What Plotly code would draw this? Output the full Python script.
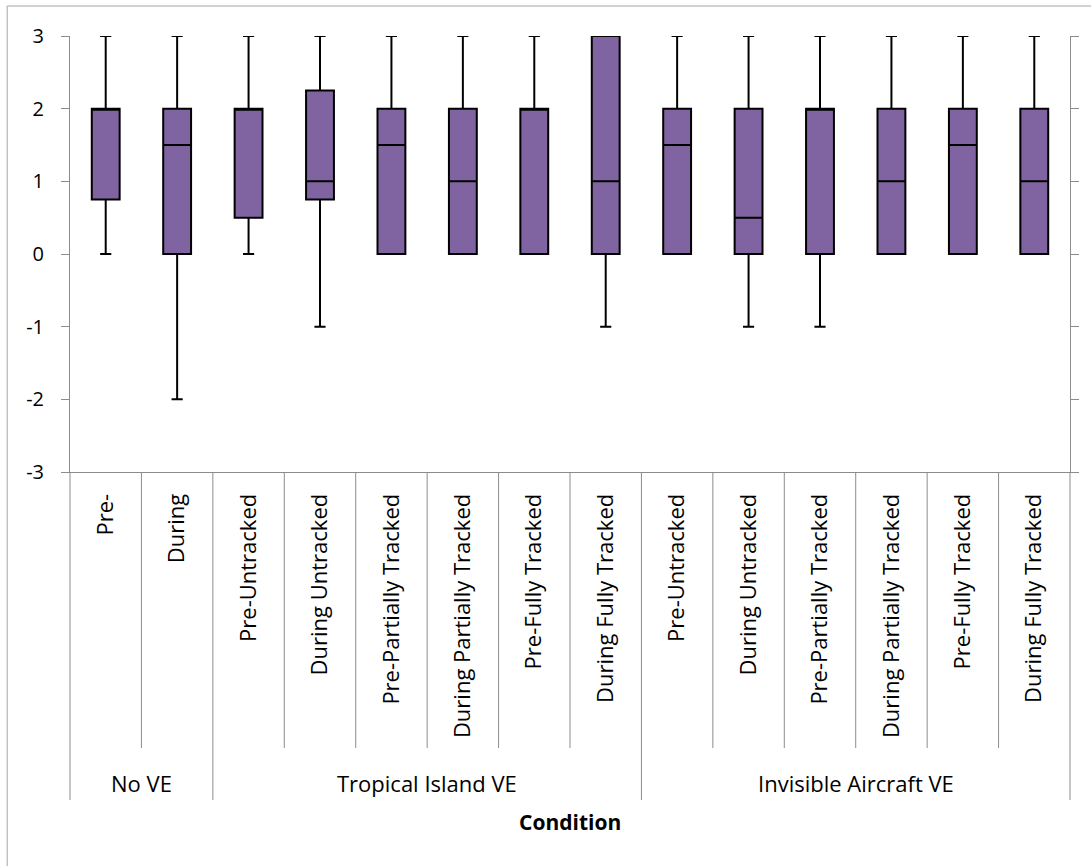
import plotly.graph_objects as go

# Condition groups and the condition shown under each box
groups = ["No VE"] * 2 + ["Tropical Island VE"] * 6 + ["Invisible Aircraft VE"] * 6
conditions = [
    "Pre-", "During",
    "Pre-Untracked", "During Untracked", "Pre-Partially Tracked",
    "During Partially Tracked", "Pre-Fully Tracked", "During Fully Tracked",
    "Pre-Untracked", "During Untracked", "Pre-Partially Tracked",
    "During Partially Tracked", "Pre-Fully Tracked", "During Fully Tracked",
]

# Five-number summaries per condition
minimum = [0, -2, 0, -1, 0, 0, 0, -1, 0, -1, -1, 0, 0, 0]
lower_q = [0.75, 0, 0.5, 0.75, 0, 0, 0, 0, 0, 0, 0, 0, 0, 0]
median = [2, 1.5, 2, 1, 1.5, 1, 2, 1, 1.5, 0.5, 2, 1, 1.5, 1]
upper_q = [2, 2, 2, 2.25, 2, 2, 2, 3, 2, 2, 2, 2, 2, 2]
maximum = [3, 3, 3, 3, 3, 3, 3, 3, 3, 3, 3, 3, 3, 3]

y_ticks = [-3, -2, -1, 0, 1, 2, 3]

keys = [f"{g} | {c}" for g, c in zip(groups, conditions)]

FONT = "Open Sans"
AXIS_GRAY = "#8c8c8c"
W, H = 1091, 866
M_L, M_R, M_T, M_B = 70, 18, 36, 394
plot_w = W - M_L - M_R
plot_h = H - M_T - M_B


def py(pix):
    """Convert a page pixel row to paper y."""
    return (H - M_B - pix) / plot_h


def px(pix):
    """Convert a page pixel column to paper x."""
    return (pix - M_L) / plot_w


fig = go.Figure()
fig.add_trace(go.Box(
    x=keys,
    q1=lower_q,
    median=median,
    q3=upper_q,
    lowerfence=minimum,
    upperfence=maximum,
    boxpoints=False,
    width=0.39,
    whiskerwidth=0.4,
    fillcolor="#8064A2",
    line=dict(color="#000000", width=2),
    hoverinfo="skip",
    showlegend=False,
))

shapes = []
n = len(keys)
# boundaries where the group changes
group_edges = {0, n}
for i in range(1, n):
    if groups[i] != groups[i - 1]:
        group_edges.add(i)
for k in range(n + 1):
    bottom = py(800) if k in group_edges else py(748)
    shapes.append(dict(
        type="line", xref="x domain", yref="paper",
        x0=k / n, x1=k / n, y0=0, y1=bottom,
        line=dict(color=AXIS_GRAY, width=1),
    ))

# chart frame
shapes.append(dict(
    type="rect", xref="paper", yref="paper",
    x0=px(7), x1=px(1100), y0=py(880), y1=py(6),
    line=dict(color="#a6a6a6", width=1), fillcolor="rgba(0,0,0,0)",
    layer="below",
))

annotations = []
# group labels centred under their conditions
seen = []
for g in groups:
    if g not in seen:
        seen.append(g)
for g in seen:
    idx = [i for i, gg in enumerate(groups) if gg == g]
    centre = (idx[0] + idx[-1]) / 2
    annotations.append(dict(
        x=centre, xref="x",
        y=py(783), yref="paper", text=g, showarrow=False,
        font=dict(family=FONT, size=22, color="#000000"),
        xanchor="center", yanchor="middle",
    ))
annotations.append(dict(
    x=0.5, xref="paper", y=py(822), yref="paper",
    text="<b>Condition</b>", showarrow=False,
    font=dict(family=FONT, size=21, color="#000000"),
    xanchor="center", yanchor="middle",
))

fig.update_layout(
    width=W, height=H,
    margin=dict(l=M_L, r=M_R, t=M_T, b=M_B, pad=0),
    paper_bgcolor="white", plot_bgcolor="white",
    font=dict(family=FONT, color="#000000"),
    shapes=shapes,
    annotations=annotations,
    xaxis=dict(
        type="category",
        categoryorder="array", categoryarray=keys,
        range=[-0.5, n - 0.5],
        tickmode="array", tickvals=keys, ticktext=conditions,
        tickangle=-90,
        ticks="",
        ticklabelstandoff=12,
        tickfont=dict(family=FONT, size=22, color="#000000"),
        showline=True, linecolor=AXIS_GRAY, linewidth=1,
        showgrid=False, zeroline=False,
    ),
    yaxis=dict(
        range=[-3, 3],
        tickmode="array", tickvals=y_ticks,
        ticktext=[str(v) for v in y_ticks],
        ticks="outside", ticklen=8, tickwidth=1, tickcolor=AXIS_GRAY,
        ticklabelstandoff=13,
        tickfont=dict(family=FONT, size=20, color="#000000"),
        showline=True, linecolor=AXIS_GRAY, linewidth=1,
        mirror="ticks",
        showgrid=False, zeroline=False,
    ),
)

fig.write_html("out.html")
